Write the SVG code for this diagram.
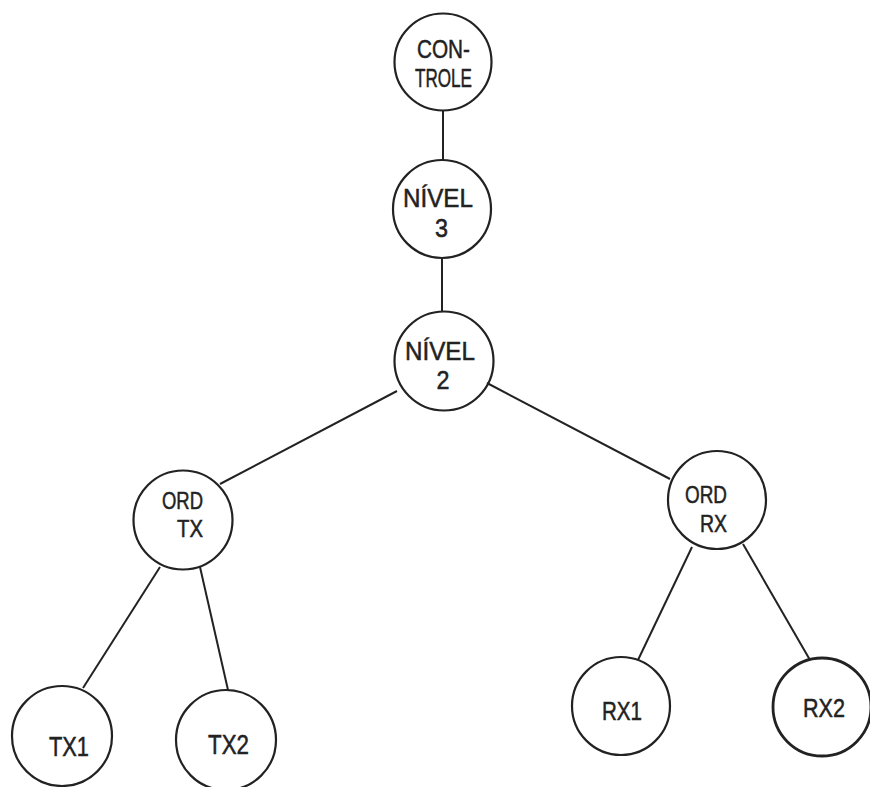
<svg xmlns="http://www.w3.org/2000/svg" width="870" height="787" viewBox="0 0 870 787">
<style>
.bg{fill:#ffffff}
.node circle{fill:none;stroke:#222;stroke-width:2.2}
.edges line{stroke:#222;stroke-width:2}
text{font-family:"Liberation Sans","DejaVu Sans",sans-serif;font-size:26px;fill:#222;stroke:#222;stroke-width:0.5;text-anchor:middle}
.big{font-size:28px}
.sm{font-size:24px}
</style>
<rect class="bg" x="0" y="0" width="870" height="787"/>
<g class="edges">
<line x1="443" y1="110" x2="443" y2="160"/>
<line x1="442" y1="258" x2="442" y2="312"/>
<line x1="397" y1="391" x2="220" y2="484"/>
<line x1="487" y1="383" x2="670" y2="479"/>
<line x1="160" y1="567" x2="83" y2="688"/>
<line x1="200" y1="567" x2="228" y2="690"/>
<line x1="692" y1="547" x2="638" y2="660"/>
<line x1="743" y1="544" x2="810" y2="660"/>
</g>
<g id="controle" class="node">
<circle cx="443" cy="62" r="48.5"/>
<text x="443.5" y="58" textLength="53" lengthAdjust="spacingAndGlyphs">CON-</text>
<text x="443.5" y="87" textLength="57" lengthAdjust="spacingAndGlyphs">TROLE</text>
</g>
<g id="nivel3" class="node">
<circle cx="442" cy="209" r="49"/>
<text x="438" y="207" textLength="70" lengthAdjust="spacingAndGlyphs">NÍVEL</text>
<text x="441.5" y="237" textLength="13" lengthAdjust="spacingAndGlyphs">3</text>
</g>
<g id="nivel2" class="node">
<circle cx="444" cy="361" r="49.5"/>
<text x="440" y="360" textLength="70" lengthAdjust="spacingAndGlyphs">NÍVEL</text>
<text x="443" y="389" textLength="13" lengthAdjust="spacingAndGlyphs">2</text>
</g>
<g id="ordtx" class="node">
<circle cx="183" cy="520" r="49.5"/>
<text class="sm" x="182.5" y="509" textLength="41" lengthAdjust="spacingAndGlyphs">ORD</text>
<text class="sm" x="190" y="537" textLength="26" lengthAdjust="spacingAndGlyphs">TX</text>
</g>
<g id="ordrx" class="node">
<circle cx="717" cy="500" r="49"/>
<text class="sm" x="706" y="503" textLength="42" lengthAdjust="spacingAndGlyphs">ORD</text>
<text class="sm" x="713.5" y="532" textLength="27" lengthAdjust="spacingAndGlyphs">RX</text>
</g>
<g id="tx1" class="node">
<circle cx="62" cy="736" r="50"/>
<text class="big" x="69" y="756" textLength="40" lengthAdjust="spacingAndGlyphs">TX1</text>
</g>
<g id="tx2" class="node">
<circle cx="226" cy="740" r="50"/>
<text class="big" x="228.5" y="754" textLength="41" lengthAdjust="spacingAndGlyphs">TX2</text>
</g>
<g id="rx1" class="node">
<circle cx="621" cy="706" r="49"/>
<text x="622" y="720" textLength="40" lengthAdjust="spacingAndGlyphs">RX1</text>
</g>
<g id="rx2" class="node">
<circle cx="822" cy="707" r="49" style="stroke-width:2.8"/>
<text x="824" y="717" textLength="42" lengthAdjust="spacingAndGlyphs">RX2</text>
</g>
</svg>
